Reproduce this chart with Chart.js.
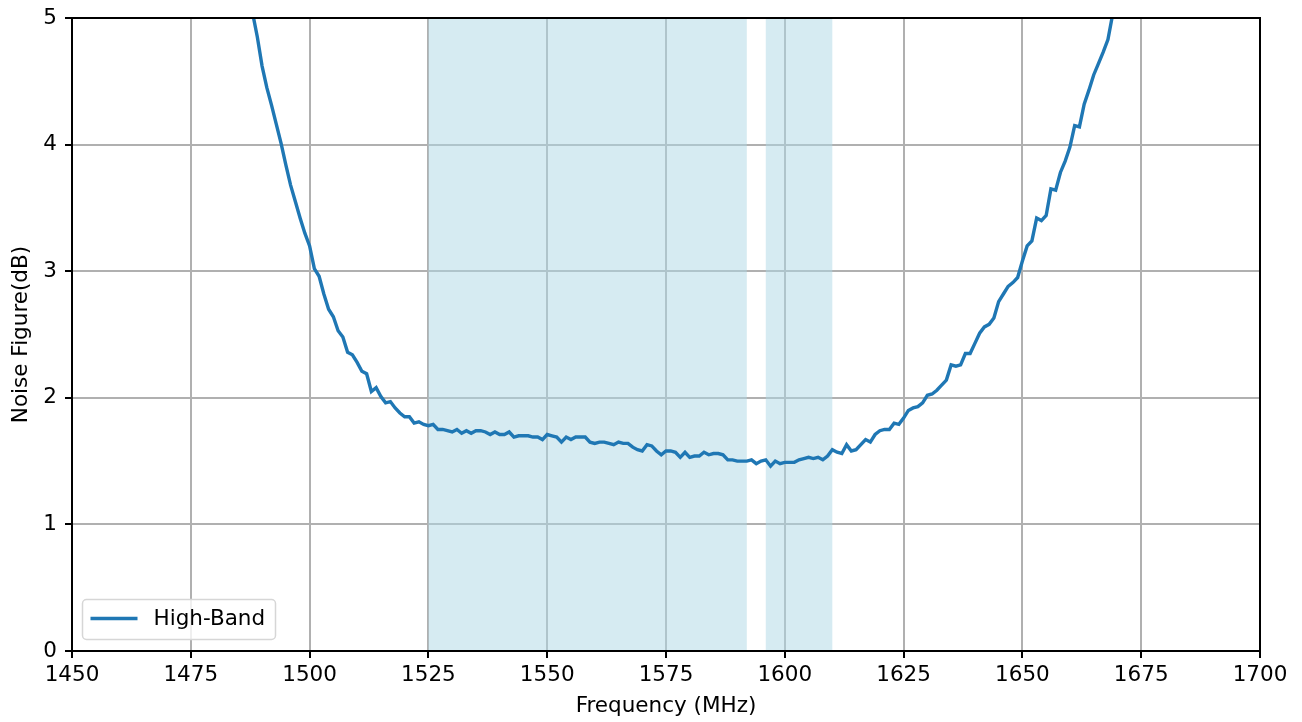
<!DOCTYPE html>
<html>
<head>
<meta charset="utf-8">
<script src="https://cdn.jsdelivr.net/npm/chart.js@4"></script>
<style>
    html, body { margin: 0; padding: 0; background: #fff; }
    canvas { display: block; }
</style>
</head>
<body>
<canvas id="nfChart" width="1302" height="722"></canvas>
<script>
// Measured noise figure of the high-band LNA, one point per MHz
const freqMHz = [
    1488, 1489,
    1490, 1491, 1492, 1493, 1494, 1495, 1496, 1497, 1498, 1499,
    1500, 1501, 1502, 1503, 1504, 1505, 1506, 1507, 1508, 1509,
    1510, 1511, 1512, 1513, 1514, 1515, 1516, 1517, 1518, 1519,
    1520, 1521, 1522, 1523, 1524, 1525, 1526, 1527, 1528, 1529,
    1530, 1531, 1532, 1533, 1534, 1535, 1536, 1537, 1538, 1539,
    1540, 1541, 1542, 1543, 1544, 1545, 1546, 1547, 1548, 1549,
    1550, 1551, 1552, 1553, 1554, 1555, 1556, 1557, 1558, 1559,
    1560, 1561, 1562, 1563, 1564, 1565, 1566, 1567, 1568, 1569,
    1570, 1571, 1572, 1573, 1574, 1575, 1576, 1577, 1578, 1579,
    1580, 1581, 1582, 1583, 1584, 1585, 1586, 1587, 1588, 1589,
    1590, 1591, 1592, 1593, 1594, 1595, 1596, 1597, 1598, 1599,
    1600, 1601, 1602, 1603, 1604, 1605, 1606, 1607, 1608, 1609,
    1610, 1611, 1612, 1613, 1614, 1615, 1616, 1617, 1618, 1619,
    1620, 1621, 1622, 1623, 1624, 1625, 1626, 1627, 1628, 1629,
    1630, 1631, 1632, 1633, 1634, 1635, 1636, 1637, 1638, 1639,
    1640, 1641, 1642, 1643, 1644, 1645, 1646, 1647, 1648, 1649,
    1650, 1651, 1652, 1653, 1654, 1655, 1656, 1657, 1658, 1659,
    1660, 1661, 1662, 1663, 1664, 1665, 1666, 1667, 1668, 1669
];

const noiseFigureDb = [
    5.04, 4.85,
    4.62, 4.45, 4.31, 4.16, 4.01, 3.84, 3.68, 3.55, 3.42, 3.30,
    3.20, 3.02, 2.96, 2.82, 2.70, 2.64, 2.53, 2.48, 2.36, 2.34,
    2.28, 2.21, 2.19, 2.05, 2.08, 2.01, 1.96, 1.97, 1.92, 1.88,
    1.85, 1.85, 1.80, 1.81, 1.79, 1.78, 1.79, 1.75, 1.75, 1.74,
    1.73, 1.75, 1.72, 1.74, 1.72, 1.74, 1.74, 1.73, 1.71, 1.73,
    1.71, 1.71, 1.73, 1.69, 1.70, 1.70, 1.70, 1.69, 1.69, 1.67,
    1.71, 1.70, 1.69, 1.65, 1.69, 1.67, 1.69, 1.69, 1.69, 1.65,
    1.64, 1.65, 1.65, 1.64, 1.63, 1.65, 1.64, 1.64, 1.61, 1.59,
    1.58, 1.63, 1.62, 1.58, 1.55, 1.58, 1.58, 1.57, 1.53, 1.57,
    1.53, 1.54, 1.54, 1.57, 1.55, 1.56, 1.56, 1.55, 1.51, 1.51,
    1.50, 1.50, 1.50, 1.51, 1.48, 1.50, 1.51, 1.46, 1.50, 1.48,
    1.49, 1.49, 1.49, 1.51, 1.52, 1.53, 1.52, 1.53, 1.51, 1.54,
    1.59, 1.57, 1.56, 1.63, 1.58, 1.59, 1.63, 1.67, 1.65, 1.71,
    1.74, 1.75, 1.75, 1.80, 1.79, 1.84, 1.90, 1.92, 1.93, 1.96,
    2.02, 2.03, 2.06, 2.10, 2.14, 2.26, 2.25, 2.26, 2.35, 2.35,
    2.43, 2.51, 2.56, 2.58, 2.63, 2.76, 2.82, 2.88, 2.91, 2.95,
    3.08, 3.20, 3.24, 3.42, 3.40, 3.44, 3.65, 3.64, 3.78, 3.87,
    3.98, 4.15, 4.14, 4.32, 4.43, 4.55, 4.64, 4.73, 4.83, 5.03
];

// Shaded operating bands (MHz)
const bandStart = [1525, 1596];
const bandEnd = [1592, 1610];

const seriesLabel = 'High-Band';
const xTicks = [1450, 1475, 1500, 1525, 1550, 1575, 1600, 1625, 1650, 1675, 1700];
const yTicks = [0, 1, 2, 3, 4, 5];

const FONT = 'DejaVu Sans';
const FONT_SIZE = 21.5;
const LINE_COLOR = '#1f77b4';

// light blue bands behind the curve
const bandPlugin = {
    id: 'bands',
    beforeDatasetsDraw(chart) {
        const { ctx, chartArea, scales: { x } } = chart;
        ctx.save();
        ctx.fillStyle = 'rgba(173, 216, 230, 0.5)';
        bandStart.forEach((start, i) => {
            const x0 = x.getPixelForValue(start);
            const x1 = x.getPixelForValue(bandEnd[i]);
            ctx.fillRect(x0, chartArea.top, x1 - x0, chartArea.bottom - chartArea.top);
        });
        ctx.restore();
    }
};

// full box around the plot plus a legend in the lower left corner
const framePlugin = {
    id: 'frame',
    afterDraw(chart) {
        const { ctx, chartArea } = chart;
        const ds = chart.data.datasets[0];
        ctx.save();

        // legend
        const lx = chartArea.left + 10.5, ly = chartArea.bottom - 51.5;
        ctx.beginPath();
        ctx.roundRect(lx, ly, 193, 40, 4);
        ctx.fillStyle = 'rgba(255, 255, 255, 0.8)';
        ctx.fill();
        ctx.lineWidth = 1.5;
        ctx.strokeStyle = '#d6d6d6';
        ctx.stroke();

        ctx.beginPath();
        ctx.moveTo(lx + 8, ly + 19);
        ctx.lineTo(lx + 55, ly + 19);
        ctx.lineWidth = ds.borderWidth;
        ctx.strokeStyle = ds.borderColor;
        ctx.stroke();

        ctx.fillStyle = '#000';
        ctx.font = `${FONT_SIZE}px "${FONT}"`;
        ctx.textBaseline = 'middle';
        ctx.textAlign = 'left';
        ctx.fillText(ds.label, lx + 71, ly + 20);

        // spines
        ctx.lineWidth = 2;
        ctx.strokeStyle = '#000';
        ctx.strokeRect(chartArea.left, chartArea.top,
            chartArea.right - chartArea.left, chartArea.bottom - chartArea.top);
        ctx.restore();
    }
};

const canvas = document.getElementById('nfChart');
const ctx = canvas.getContext('2d');

const gridStyle = {
    color: '#b0b0b0',
    lineWidth: 2,
    tickColor: '#000',
    tickLength: 7,
    tickWidth: 2
};

new Chart(ctx, {
    type: 'line',
    data: {
        datasets: [{
            label: seriesLabel,
            data: freqMHz.map((f, i) => ({ x: f, y: noiseFigureDb[i] })),
            borderColor: LINE_COLOR,
            backgroundColor: LINE_COLOR,
            borderWidth: 3.4,
            pointRadius: 0,
            tension: 0,
            fill: false
        }]
    },
    options: {
        responsive: false,
        animation: false,
        devicePixelRatio: 1,
        layout: { padding: { top: 18, right: 42, left: 0, bottom: 0 } },
        plugins: {
            legend: { display: false },
            tooltip: { enabled: false }
        },
        scales: {
            x: {
                type: 'linear',
                min: 1450,
                max: 1700,
                afterBuildTicks: scale => { scale.ticks = xTicks.map(v => ({ value: v })); },
                afterFit: scale => { scale.height = 71; },
                ticks: {
                    color: '#000',
                    font: { family: FONT, size: FONT_SIZE },
                    padding: 5,
                    maxRotation: 0,
                    autoSkip: false,
                    callback: v => String(v)
                },
                grid: gridStyle,
                border: { display: true, color: '#000', width: 2 },
                title: {
                    display: true,
                    text: 'Frequency (MHz)',
                    color: '#000',
                    font: { family: FONT, size: FONT_SIZE },
                    padding: { top: 0, bottom: 3 }
                }
            },
            y: {
                min: 0,
                max: 5,
                afterBuildTicks: scale => { scale.ticks = yTicks.map(v => ({ value: v })); },
                afterFit: scale => {
                    scale.width = 72;
                    // labels may overhang the plot; keep the plot top fixed
                    scale.paddingTop = 0;
                    scale.paddingBottom = 0;
                },
                ticks: {
                    color: '#000',
                    font: { family: FONT, size: FONT_SIZE },
                    padding: 8,
                    callback: v => String(v)
                },
                grid: gridStyle,
                border: { display: true, color: '#000', width: 2 },
                title: {
                    display: true,
                    text: 'Noise Figure(dB)',
                    color: '#000',
                    font: { family: FONT, size: FONT_SIZE },
                    padding: { top: 9, bottom: 0 }
                }
            }
        }
    },
    plugins: [bandPlugin, framePlugin]
});
</script>
</body>
</html>
